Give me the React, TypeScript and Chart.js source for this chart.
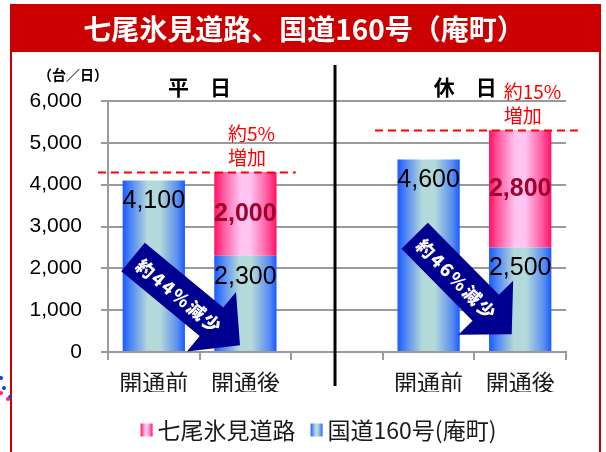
import React, { useEffect, useRef } from 'react';
import { Chart, registerables } from 'chart.js';

Chart.register(...registerables);

// ---- data ----
const categories = ['開通前', '開通後', '', '開通前', '開通後'];
const nationalRoute = [4100, 2300, null, 4600, 2500];
const expressway = [null, 2000, null, null, 2800];
const seriesLabels = ['国道160号(庵町)', '七尾氷見道路'];
const yTicks = [0, 1000, 2000, 3000, 4000, 5000, 6000];
const groupLabels = ['平　日', '休　日'];
const groupPositions = [0.5, 3.4];
const increaseTotals = [4300, 5300];
const increaseTexts = [['約5%', '増加'], ['約15%', '増加']];
const increaseRanges = [[-0.61, 1.55], [2.415, 4.63]];
const increaseTextAt = [0.81, 3.82];
const decreaseTexts = ['約44%減少', '約46%減少'];
const decreaseFrom = [[-0.227, 2273], [2.848, 2781]];
const decreaseTo = [[0.941, 161], [3.907, 425]];
const dividerAt = 1.98;
const titleText = '七尾氷見道路、国道160号（庵町）';
const unitText = '（台／日）';

// ---- styles ----
const JP = '"Noto Sans CJK JP", "Noto Sans", sans-serif';
const NUM = '"Liberation Sans", Arial, sans-serif';
const BAR_PCT = 0.68;
const GRID = '#9a9a9a';
const blueStops: [number, string][] = [
  [0, '#1a5aff'], [0.12, '#4a82f6'], [0.4, '#b4d9da'], [0.6, '#b4d9da'], [0.88, '#5a8ef2'], [1, '#1a5aff'],
];
const pinkStops: [number, string][] = [
  [0, '#ff1262'], [0.15, '#ff5aa0'], [0.42, '#ffc4f2'], [0.58, '#ffc4f2'], [0.85, '#ff5aa0'], [1, '#ff1262'],
];

function makeGrad(ctx: CanvasRenderingContext2D, x0: number, x1: number, stops: [number, string][]) {
  const g = ctx.createLinearGradient(x0, 0, x1, 0);
  stops.forEach(([o, c]) => g.addColorStop(o, c));
  return g;
}

function barGradient(stops: [number, string][]) {
  return (c: any) => {
    const chart = c.chart;
    const xs = chart.scales && chart.scales.x;
    if (!xs || c.type !== 'data' || !xs.width) return stops[2][1];
    const center = xs.getPixelForValue(c.dataIndex);
    const half = (xs.width / categories.length) * BAR_PCT / 2;
    return makeGrad(chart.ctx, center - half, center + half, stops);
  };
}

function fmt(v: number) {
  return v.toLocaleString('en-US');
}

const decorPlugin = {
  id: 'decor',
  beforeDraw(chart: any) {
    const { ctx } = chart;
    ctx.save();
    ctx.fillStyle = '#ffffff';
    ctx.fillRect(0, 0, chart.width, chart.height);
    // title bar and frame
    ctx.fillStyle = '#cc0000';
    ctx.fillRect(10, 4, 591, 48);
    ctx.fillRect(10, 52, 2, 400);
    ctx.fillRect(599, 52, 2, 400);
    ctx.fillStyle = '#ffffff';
    ctx.font = `bold 28px ${JP}`;
    ctx.textAlign = 'center';
    ctx.textBaseline = 'middle';
    ctx.fillText(titleText, 304, 29);
    // stray dots from neighbouring graphic
    const dots: [number, number, string][] = [[1, 378, '#1040e0'], [4, 388, '#1040e0'], [10, 397, '#1040e0'], [1, 393, '#ff2080'], [8, 399, '#ff2080']];
    dots.forEach(([x, y, c]) => { ctx.fillStyle = c; ctx.beginPath(); ctx.arc(x, y, 2, 0, Math.PI * 2); ctx.fill(); });
    ctx.restore();
  },
  afterDatasetsDraw(chart: any) {
    const { ctx, chartArea } = chart;
    const xs = chart.scales.x;
    const ys = chart.scales.y;
    ctx.save();

    // divider
    const dx = xs.getPixelForValue(dividerAt);
    ctx.fillStyle = '#000';
    ctx.fillRect(Math.round(dx) - 1.5, 65, 3, 321);

    // group labels and unit
    ctx.fillStyle = '#000';
    ctx.font = `bold 21px ${JP}`;
    ctx.textAlign = 'center';
    ctx.textBaseline = 'middle';
    groupLabels.forEach((t, i) => ctx.fillText(t, xs.getPixelForValue(groupPositions[i]), chartArea.top - 14));
    ctx.font = `bold 14px ${JP}`;
    ctx.fillText(unitText, chartArea.left - 35, chartArea.top - 26);

    // dashed total lines + increase text
    ctx.strokeStyle = '#ff0000';
    ctx.lineWidth = 2;
    ctx.setLineDash([8, 5]);
    increaseTotals.forEach((v, i) => {
      const y = Math.round(ys.getPixelForValue(v)) + 0.5;
      ctx.beginPath();
      ctx.moveTo(xs.getPixelForValue(increaseRanges[i][0]), y);
      ctx.lineTo(xs.getPixelForValue(increaseRanges[i][1]), y);
      ctx.stroke();
      ctx.fillStyle = '#ff0000';
      ctx.font = `19px ${JP}`;
      ctx.textAlign = 'left';
      ctx.textBaseline = 'middle';
      const tx = xs.getPixelForValue(increaseTextAt[i]);
      ctx.fillText(increaseTexts[i][0], tx, y - 39);
      ctx.fillText(increaseTexts[i][1], tx, y - 15);
    });
    ctx.setLineDash([]);

    // arrows
    decreaseTexts.forEach((t, i) => {
      const x0 = xs.getPixelForValue(decreaseFrom[i][0]);
      const y0 = ys.getPixelForValue(decreaseFrom[i][1]);
      const x1 = xs.getPixelForValue(decreaseTo[i][0]);
      const y1 = ys.getPixelForValue(decreaseTo[i][1]);
      const ang = Math.atan2(y1 - y0, x1 - x0);
      const len = Math.hypot(x1 - x0, y1 - y0);
      const sw = 37, hw = 77, hl = 37;
      ctx.save();
      ctx.translate(x0, y0);
      ctx.rotate(ang);
      ctx.beginPath();
      ctx.moveTo(0, -sw / 2);
      ctx.lineTo(len - hl, -sw / 2);
      ctx.lineTo(len - hl, -hw / 2);
      ctx.lineTo(len, 0);
      ctx.lineTo(len - hl, hw / 2);
      ctx.lineTo(len - hl, sw / 2);
      ctx.lineTo(0, sw / 2);
      ctx.closePath();
      ctx.fillStyle = '#000090';
      ctx.fill();
      ctx.fillStyle = '#ffffff';
      ctx.font = `900 18px ${JP}`;
      ctx.textAlign = 'center';
      ctx.textBaseline = 'middle';
      try { (ctx as any).letterSpacing = '2px'; } catch (e) {}
      ctx.fillText(t, 61, 1);
      try { (ctx as any).letterSpacing = '0px'; } catch (e) {}
      ctx.restore();
    });

    // value labels
    const blueMeta = chart.getDatasetMeta(0);
    const pinkMeta = chart.getDatasetMeta(1);
    ctx.textAlign = 'center';
    ctx.textBaseline = 'middle';
    blueMeta.data.forEach((el: any, j: number) => {
      const v = nationalRoute[j];
      if (v == null) return;
      ctx.fillStyle = '#000';
      ctx.font = `25px ${NUM}`;
      ctx.fillText(fmt(v), el.x, el.y + 21);
    });
    pinkMeta.data.forEach((el: any, j: number) => {
      const v = expressway[j];
      if (v == null) return;
      ctx.fillStyle = '#a0002e';
      ctx.font = `bold 25px ${NUM}`;
      ctx.fillText(fmt(v), el.x, (el.y + el.base) / 2);
    });

    // legend (expressway first)
    const items = [
      { label: seriesLabels[1], stops: pinkStops },
      { label: seriesLabels[0], stops: blueStops },
    ];
    ctx.font = `23px ${JP}`;
    const boxW = 12, boxH = 13, gapBT = 5, gapItems = 15;
    const widths = items.map((it) => boxW + gapBT + ctx.measureText(it.label).width);
    const total = widths.reduce((a, b) => a + b, 0) + gapItems * (items.length - 1);
    let lx = 318.5 - total / 2;
    const ly = 430;
    items.forEach((it, k) => {
      ctx.fillStyle = makeGrad(ctx, lx, lx + boxW, it.stops);
      ctx.fillRect(lx, ly - boxH / 2, boxW, boxH);
      ctx.fillStyle = '#1a1a1a';
      ctx.textAlign = 'left';
      ctx.textBaseline = 'middle';
      ctx.fillText(it.label, lx + boxW + gapBT, ly);
      lx += widths[k] + gapItems;
    });

    ctx.restore();
  },
};

export default function App() {
  const ref = useRef<HTMLCanvasElement>(null);
  useEffect(() => {
    const canvas = ref.current;
    if (!canvas) return;
    const chart = new Chart(canvas, {
      type: 'bar',
      data: {
        labels: categories,
        datasets: [
          {
            label: seriesLabels[0],
            data: nationalRoute as any,
            backgroundColor: barGradient(blueStops) as any,
            borderWidth: 0,
            barPercentage: BAR_PCT,
            categoryPercentage: 1,
          },
          {
            label: seriesLabels[1],
            data: expressway as any,
            backgroundColor: barGradient(pinkStops) as any,
            borderWidth: 0,
            barPercentage: BAR_PCT,
            categoryPercentage: 1,
          },
        ],
      },
      options: {
        responsive: false,
        animation: false,
        events: [],
        layout: { padding: { left: 0, top: 101, right: 40, bottom: 60 } },
        plugins: {
          legend: { display: false },
          tooltip: { enabled: false },
          title: { display: false },
        },
        scales: {
          x: {
            stacked: true,
            grid: {
              offset: true,
              drawOnChartArea: false,
              drawTicks: true,
              tickLength: 8,
              color: GRID,
              lineWidth: 2,
            },
            border: { color: GRID, width: 2 },
            ticks: {
              color: '#1a1a1a',
              font: { family: JP, size: 23 },
              padding: 8,
              autoSkip: false,
              maxRotation: 0,
            },
            afterFit: (s: any) => { s.height = 40; },
          },
          y: {
            stacked: true,
            min: 0,
            max: 6000,
            afterBuildTicks: (s: any) => { s.ticks = yTicks.map((v) => ({ value: v })); },
            ticks: {
              color: '#000',
              font: { family: NUM, size: 21 },
              padding: 19,
              callback: (v: any) => fmt(Number(v)),
            },
            grid: { color: GRID, lineWidth: 2, tickLength: 7 },
            border: { color: GRID, width: 2 },
            afterFit: (s: any) => { s.width = 108; },
          },
        },
      },
      plugins: [decorPlugin],
    });
    return () => chart.destroy();
  }, []);
  return (
    <div style={{ position: 'fixed', left: 0, top: 0, width: 606, height: 452, background: '#fff' }}>
      <canvas ref={ref} width={606} height={452} style={{ display: 'block', width: 606, height: 452 }} />
    </div>
  );
}
